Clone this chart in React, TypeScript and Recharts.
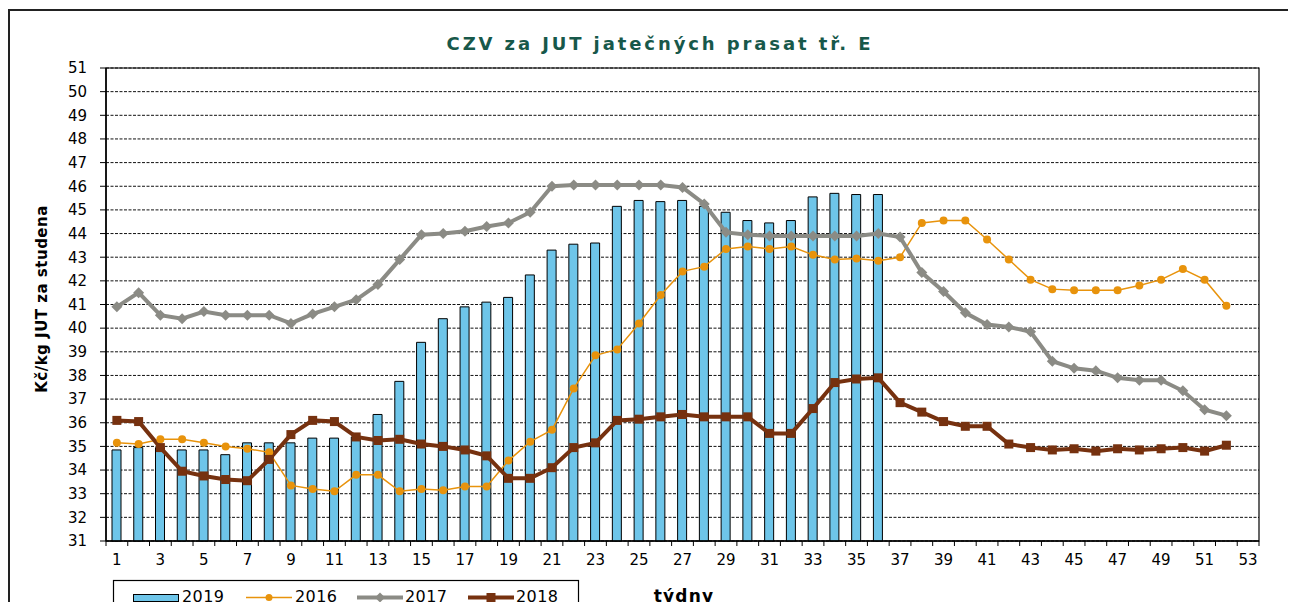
import {
  Bar,
  CartesianGrid,
  ComposedChart,
  Line,
  ReferenceArea,
  XAxis,
  YAxis,
} from "recharts";

// týdny 1..53
const weeks = [
  1, 2, 3, 4, 5, 6, 7, 8, 9, 10, 11, 12, 13, 14, 15, 16, 17, 18, 19, 20, 21,
  22, 23, 24, 25, 26, 27, 28, 29, 30, 31, 32, 33, 34, 35, 36, 37, 38, 39, 40,
  41, 42, 43, 44, 45, 46, 47, 48, 49, 50, 51, 52, 53,
];

const yTicks = [
  31, 32, 33, 34, 35, 36, 37, 38, 39, 40, 41, 42, 43, 44, 45, 46, 47, 48, 49,
  50, 51,
];

const price2019 = [
  34.85, 34.95, 34.95, 34.85, 34.85, 34.65, 35.15, 35.15, 35.15, 35.35,
  35.35, 35.4, 36.35, 37.75, 39.4, 40.4, 40.9, 41.1, 41.3, 42.25,
  43.3, 43.55, 43.6, 45.15, 45.4, 45.35, 45.4, 45.15, 44.9, 44.55,
  44.45, 44.55, 45.55, 45.7, 45.65, 45.65,
];

const price2016 = [
  35.15, 35.1, 35.3, 35.3, 35.15, 35.0, 34.9, 34.75, 33.35, 33.2,
  33.1, 33.8, 33.8, 33.1, 33.2, 33.15, 33.3, 33.3, 34.4, 35.2,
  35.7, 37.45, 38.85, 39.1, 40.2, 41.4, 42.4, 42.6, 43.35, 43.45,
  43.35, 43.45, 43.1, 42.9, 42.95, 42.85, 43.0, 44.45, 44.55, 44.55,
  43.75, 42.9, 42.05, 41.65, 41.6, 41.6, 41.6, 41.8, 42.05, 42.5,
  42.05, 40.95,
];

const price2017 = [
  40.9, 41.5, 40.55, 40.4, 40.7, 40.55, 40.55, 40.55, 40.2, 40.6,
  40.9, 41.2, 41.85, 42.9, 43.95, 44.0, 44.1, 44.3, 44.45, 44.9,
  46.0, 46.05, 46.05, 46.05, 46.05, 46.05, 45.95, 45.25, 44.05, 43.95,
  43.9, 43.9, 43.9, 43.9, 43.9, 44.0, 43.85, 42.35, 41.55, 40.65,
  40.15, 40.05, 39.85, 38.6, 38.3, 38.2, 37.9, 37.8, 37.8, 37.35,
  36.55, 36.3,
];

const price2018 = [
  36.1, 36.05, 34.95, 33.95, 33.75, 33.6, 33.55, 34.45, 35.5, 36.1,
  36.05, 35.4, 35.25, 35.3, 35.1, 35.0, 34.85, 34.6, 33.65, 33.65,
  34.1, 34.95, 35.15, 36.1, 36.15, 36.25, 36.35, 36.25, 36.25, 36.25,
  35.55, 35.55, 36.6, 37.7, 37.85, 37.9, 36.85, 36.45, 36.05, 35.85,
  35.85, 35.1, 34.95, 34.85, 34.9, 34.8, 34.9, 34.85, 34.9, 34.95,
  34.8, 35.05,
];

const data = weeks.map((w, i) => ({
  week: w,
  y2019: price2019[i] ?? null,
  y2016: price2016[i] ?? null,
  y2017: price2017[i] ?? null,
  y2018: price2018[i] ?? null,
}));

const BLUE = "#6ec5e9";
const ORANGE = "#e8930c";
const GREY = "#8b8b85";
const BROWN = "#76310f";
const FONT = "'DejaVu Sans', Verdana, sans-serif";

function WeekTick(props: any) {
  const { x, y, payload, index } = props;
  const half = payload?.offset ?? 10.88;
  const isLast = index === weeks.length - 1;
  return (
    <g>
      <line x1={x - half} x2={x - half} y1={y - 8} y2={y - 3} stroke="#000" />
      {isLast && (
        <line x1={x + half} x2={x + half} y1={y - 8} y2={y - 3} stroke="#000" />
      )}
      {payload.value % 2 === 1 && (
        <text x={x} y={y + 16} textAnchor="middle" fontSize={15} fill="#000" fontFamily={FONT}>
          {payload.value}
        </text>
      )}
    </g>
  );
}

function circleDot(p: any) {
  if (p.cy == null || p.value == null) return <g key={p.key ?? p.index} />;
  return <circle key={p.key ?? p.index} cx={p.cx} cy={p.cy} r={4} fill={ORANGE} />;
}

function diamondDot(p: any) {
  if (p.cy == null || p.value == null) return <g key={p.key ?? p.index} />;
  const s = 5.5;
  return (
    <polygon
      key={p.key ?? p.index}
      points={`${p.cx},${p.cy - s} ${p.cx + s},${p.cy} ${p.cx},${p.cy + s} ${p.cx - s},${p.cy}`}
      fill={GREY}
    />
  );
}

function squareDot(p: any) {
  if (p.cy == null || p.value == null) return <g key={p.key ?? p.index} />;
  const s = 4.5;
  return (
    <rect key={p.key ?? p.index} x={p.cx - s} y={p.cy - s} width={s * 2} height={s * 2} fill={BROWN} />
  );
}

function Overlay() {
  return (
    <svg
      width={1296}
      height={610}
      style={{ position: "absolute", left: 0, top: 0, pointerEvents: "none" }}
    >
      <text
        x={660}
        y={50}
        textAnchor="middle"
        fontSize={18}
        fontWeight="bold"
        letterSpacing={2.9}
        fill="#17584a"
        fontFamily={FONT}
      >
        CZV za JUT jatečných prasat tř. E
      </text>
      <text
        transform="translate(47,299) rotate(-90)"
        textAnchor="middle"
        fontSize={15}
        fontWeight="bold"
        letterSpacing={0.5}
        fill="#000"
        fontFamily={FONT}
      >
        Kč/kg JUT za studena
      </text>
      <text
        x={684}
        y={602}
        textAnchor="middle"
        fontSize={17}
        fontWeight="bold"
        letterSpacing={1.2}
        fill="#000"
        fontFamily={FONT}
      >
        týdny
      </text>

      {/* legenda */}
      <rect x={113.5} y={580.5} width={465} height={40} fill="#fff" stroke="#000" strokeWidth={1.2} />
      <rect x={133.5} y={594.5} width={45} height={7} fill={BLUE} stroke="#000" />
      <text x={182} y={602} fontSize={16} letterSpacing={0.4} fill="#000" fontFamily={FONT}>2019</text>
      <line x1={246} x2={292} y1={597.5} y2={597.5} stroke={ORANGE} strokeWidth={1.5} />
      <circle cx={269} cy={597.5} r={3.5} fill={ORANGE} />
      <text x={295} y={602} fontSize={16} letterSpacing={0.4} fill="#000" fontFamily={FONT}>2016</text>
      <line x1={357} x2={403} y1={597.5} y2={597.5} stroke={GREY} strokeWidth={4} />
      <polygon points="380,592.5 385,597.5 380,602.5 375,597.5" fill={GREY} />
      <text x={405} y={602} fontSize={16} letterSpacing={0.4} fill="#000" fontFamily={FONT}>2017</text>
      <line x1={468} x2={514} y1={597.5} y2={597.5} stroke={BROWN} strokeWidth={4} />
      <rect x={486.5} y={593} width={9} height={9} fill={BROWN} />
      <text x={516} y={602} fontSize={16} letterSpacing={0.4} fill="#000" fontFamily={FONT}>2018</text>
    </svg>
  );
}

export default function App() {
  return (
    <div
      style={{
        position: "relative",
        width: 1296,
        height: 610,
        margin: -8,
        overflow: "hidden",
        background: "#fff",
        fontFamily: FONT,
      }}
    >
      {/* rámečky */}
      <div
        style={{
          position: "absolute",
          left: 8,
          top: -20,
          width: 1279,
          height: 21,
          border: "1.5px solid #333",
        }}
      />
      <div
        style={{
          position: "absolute",
          left: 8,
          top: 9,
          width: 1283,
          height: 640,
          borderTop: "2px solid #222",
          borderLeft: "2px solid #222",
          borderRight: "1px solid #ccc",
        }}
      />
      <div style={{ position: "absolute", left: 0, top: 0 }}>
        <ComposedChart
          width={1296}
          height={610}
          data={data}
          margin={{ top: 68, right: 37, bottom: 39, left: 0 }}
          barCategoryGap={0}
        >
          <CartesianGrid
            vertical={false}
            stroke="#111"
            strokeDasharray="3 1.5"
          />
          <XAxis
            dataKey="week"
            interval={0}
            height={30}
            tickLine={false}
            axisLine={{ stroke: "#000", strokeWidth: 1.5 }}
            tick={<WeekTick />}
          />
          <YAxis
            width={106}
            domain={[31, 51]}
            ticks={yTicks}
            interval={0}
            tickSize={6}
            tickMargin={13}
            tickLine={{ stroke: "#000" }}
            axisLine={{ stroke: "#000", strokeWidth: 1.5 }}
            tick={{ fontSize: 15, fill: "#000", fontFamily: FONT }}
          />
          <ReferenceArea
            y1={31}
            y2={51}
            fill="none"
            stroke="#000"
            strokeWidth={1.2}
            ifOverflow="visible"
          />
          <Bar
            dataKey="y2019"
            barSize={9}
            fill={BLUE}
            stroke="#000"
            strokeWidth={1}
            isAnimationActive={false}
          />
          <Line
            dataKey="y2016"
            stroke={ORANGE}
            strokeWidth={1.5}
            dot={circleDot}
            activeDot={false}
            isAnimationActive={false}
          />
          <Line
            dataKey="y2017"
            stroke={GREY}
            strokeWidth={4}
            dot={diamondDot}
            activeDot={false}
            isAnimationActive={false}
          />
          <Line
            dataKey="y2018"
            stroke={BROWN}
            strokeWidth={4}
            dot={squareDot}
            activeDot={false}
            isAnimationActive={false}
          />
        </ComposedChart>
      </div>
      <Overlay />
    </div>
  );
}
